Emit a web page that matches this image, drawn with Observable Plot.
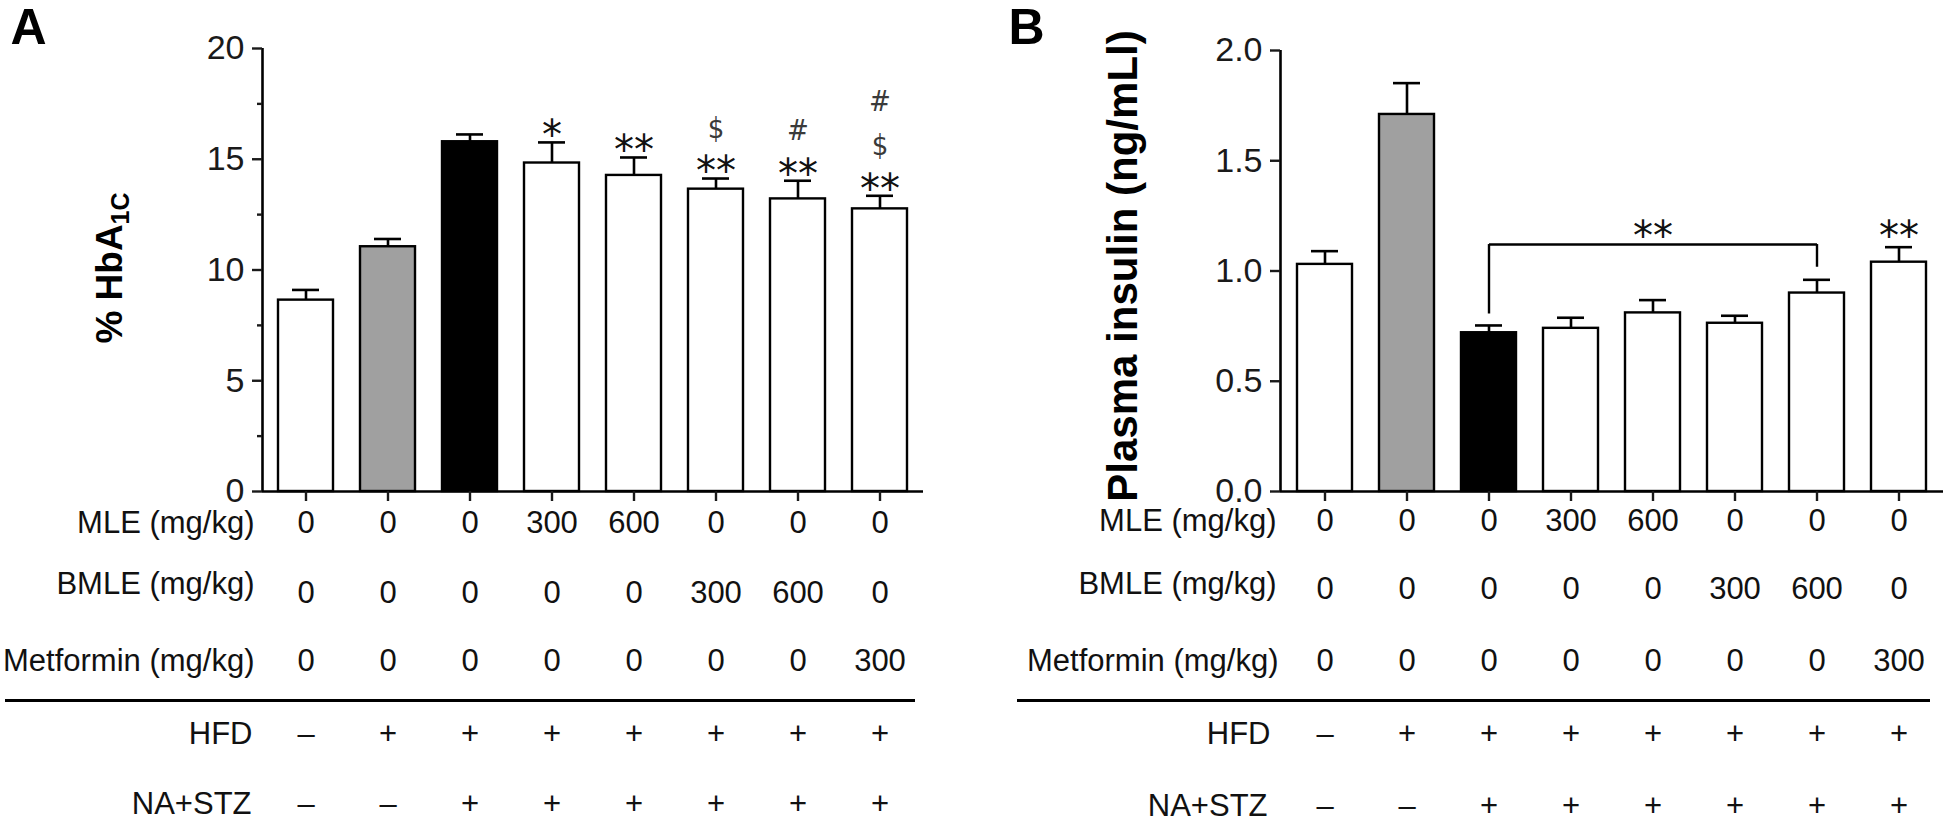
<!DOCTYPE html>
<html>
<head>
<meta charset="utf-8">
<script src="https://cdn.jsdelivr.net/npm/d3@7"></script>
<script src="https://cdn.jsdelivr.net/npm/@observablehq/plot@0.6"></script>
<style>
  html, body { margin: 0; padding: 0; background: #fff; }
  #wrap { position: relative; width: 1946px; height: 828px; overflow: hidden; }
  #panelA, #panelB { position: absolute; top: 0; }
  #panelA { left: 0; }
  #panelB { left: 973px; }
</style>
</head>
<body>
<div id="wrap"><div id="panelA"></div><div id="panelB"></div></div>
<script>
// ---------------- data ----------------
const groups = ["Control", "HFD", "HFD+NA/STZ", "MLE 300", "MLE 600", "BMLE 300", "BMLE 600", "Metformin 300"];
const barFill = ["white", "#a0a0a0", "black", "white", "white", "white", "white", "white"];

const hba1cMean = [8.64, 11.05, 15.79, 14.83, 14.27, 13.65, 13.21, 12.76];
const hba1cSem  = [0.46, 0.35, 0.33, 0.93, 0.81, 0.48, 0.82, 0.59];

const insulinMean = [1.03, 1.71, 0.72, 0.74, 0.81, 0.763, 0.90, 1.04];
const insulinSem  = [0.06, 0.142, 0.033, 0.048, 0.058, 0.034, 0.06, 0.068];

const mleDose       = ["0", "0", "0", "300", "600", "0", "0", "0"];
const bmleDose      = ["0", "0", "0", "0", "0", "300", "600", "0"];
const metforminDose = ["0", "0", "0", "0", "0", "0", "0", "300"];
const hfdRow        = ["–", "+", "+", "+", "+", "+", "+", "+"];
const nastzRow      = ["–", "–", "+", "+", "+", "+", "+", "+"];
const rowLabels     = ["MLE (mg/kg)", "BMLE (mg/kg)", "Metformin (mg/kg)", "HFD", "NA+STZ"];

const yTicksA = [0, 5, 10, 15, 20];
const yMinorA = [2.5, 7.5, 12.5, 17.5];
const yTicksB = [0, 0.5, 1.0, 1.5, 2.0];

// significance marks (group index, symbol, stacking level above the error bar)
const sigAGroup = [3, 4, 5, 6, 7, 5, 6, 7, 7];
const sigAText  = ["*", "**", "**", "**", "**", "$", "#", "$", "#"];
const sigALevel = [0, 0, 0, 0, 0, 1, 1, 1, 2];
const sigBGroup = [7];
const sigBText  = ["**"];
// comparison bracket in panel B (between groups 2 and 6)
const bracketB = {from: 2, to: 6, mid: 4, text: "**", y: 1.12, leftEnd: 0.805, rightEnd: 1.017};

// ---------------- drawing ----------------
const FONT = "'Liberation Sans', Arial, Helvetica, sans-serif";
const STAR_FONT = "'DejaVu Sans', sans-serif";
const SYM_FONT = "'DejaVu Sans Condensed', 'DejaVu Sans', sans-serif";
const W = 973, H = 828;

function build(o) {
  const d = groups.map((g, i) => ({
    g, fill: barFill[i], mean: o.mean[i], top: o.mean[i] + o.sem[i],
    r0: mleDose[i], r1: bmleDose[i], r2: metforminDose[i], r3: hfdRow[i], r4: nastzRow[i]
  }));
  const fw = W - o.ml - o.mr;
  const rowKeys = ["r0", "r1", "r2", "r3", "r4"];
  const marks = [
    Plot.barY(d, {x: "g", y: "mean", fill: "fill", stroke: "black", strokeWidth: 2.4}),
    Plot.ruleX(d, {x: "g", y1: "mean", y2: "top", stroke: "black", strokeWidth: 2.6}),
    Plot.tickY(d, {x: "g", y: "top", insetLeft: 14, insetRight: 14, stroke: "black", strokeWidth: 2.6}),
    Plot.ruleY([o.yDomain[0]], {stroke: "black", strokeWidth: 2.6}),
    Plot.ruleX([0], {x: null, y1: o.yDomain[0], y2: o.yDomain[1], dx: -fw / 2, stroke: "black", strokeWidth: 2.6}),
    Plot.axisY({ticks: o.yTicks, tickSize: 10, tickPadding: 8, tickFormat: o.tickFormat, fontSize: 34, strokeWidth: 2.4, label: null}),
    Plot.axisX({tickSize: 10, tickFormat: () => "", strokeWidth: 2.4, label: null}),
    ...rowKeys.map((k, j) => Plot.text(d, {x: "g", text: k, frameAnchor: "bottom", dy: o.valueDy[j], fontSize: 31, fill: "#111"})),
    ...rowLabels.map((t, j) => Plot.text([t], {text: v => v, frameAnchor: "bottom-left", textAnchor: "end", dx: o.labelDx[j], dy: o.labelDy[j], fontSize: 31, fill: "#111"})),
    Plot.ruleY([o.yDomain[0]], {dy: 209, insetLeft: o.sepLeft, insetRight: o.sepRight, stroke: "black", strokeWidth: 3}),
    Plot.text([o.letter], {text: v => v, frameAnchor: "top-left", textAnchor: "start", lineAnchor: "top", dx: o.letterDx, dy: o.letterDy, fontSize: 50, fontWeight: "bold", fill: "black"}),
    Plot.text([o.yLabel], {text: v => v, frameAnchor: "left", rotate: -90, textAnchor: "middle", lineAnchor: "middle", dx: o.yLabelDx, dy: o.yLabelDy, fontSize: o.yLabelSize, fontWeight: "bold", fill: "black"})
  ];
  if (o.yMinor) marks.push(Plot.axisY({ticks: o.yMinor, tickSize: 5, tickFormat: () => "", strokeWidth: 2.4, label: null}));
  return Plot.plot({
    width: W, height: H,
    marginLeft: o.ml, marginRight: o.mr, marginTop: o.mt, marginBottom: o.mb,
    x: {domain: groups, paddingInner: 0.33, paddingOuter: 0.165, axis: null},
    y: {domain: o.yDomain, axis: null},
    color: {type: "identity"},
    style: {fontFamily: FONT, background: "white", color: "#1a1a1a", overflow: "visible"},
    marks: marks.concat(o.extra(d))
  });
}

const levelOffset = [6, 50, 94];

const plotA = build({
  mean: hba1cMean, sem: hba1cSem, yDomain: [0, 20], yTicks: yTicksA, yMinor: yMinorA,
  tickFormat: d3.format("d"), ml: 262, mr: 50, mt: 48, mb: 337,
  valueDy: [41, 111, 179, 252, 322], labelDy: [41, 102, 179, 252, 322], labelDx: [-8, -8, -8, -10, -11],
  sepLeft: -257, sepRight: 8, letter: "A", letterDx: -252, letterDy: -40,
  yLabel: "% HbA1C", yLabelDx: -152, yLabelDy: -2, yLabelSize: 37,
  extra: (d) => {
    const sig = sigAGroup.map((gi, k) => ({g: groups[gi], top: d[gi].top, t: sigAText[k], lvl: sigALevel[k]}));
    return [
      Plot.text(sig.filter(s => s.lvl === 0), {x: "g", y: "top", text: "t", dy: -levelOffset[0], fontSize: 40, fontFamily: STAR_FONT, fill: "#111"}),
      Plot.text(sig.filter(s => s.lvl === 1), {x: "g", y: "top", text: "t", dy: -levelOffset[1], fontSize: 29, fontFamily: SYM_FONT, fill: "#3a3a3a"}),
      Plot.text(sig.filter(s => s.lvl === 2), {x: "g", y: "top", text: "t", dy: -levelOffset[2], fontSize: 29, fontFamily: SYM_FONT, fill: "#3a3a3a"})
    ];
  }
});

const plotB = build({
  mean: insulinMean, sem: insulinSem, yDomain: [0, 2], yTicks: yTicksB, yMinor: null,
  tickFormat: d3.format(".1f"), ml: 307, mr: 3, mt: 50, mb: 337,
  valueDy: [39, 107, 179, 252, 324], labelDy: [39, 102, 179, 252, 324], labelDx: [-4, -4, -2, -10, -13],
  sepLeft: -263, sepRight: 13, letter: "B", letterDx: -272, letterDy: -42,
  yLabel: "Plasma insulin (ng/mLl)", yLabelDx: -157, yLabelDy: -5, yLabelSize: 42,
  extra: (d) => {
    const b = bracketB;
    return [
      Plot.link([b], {x1: () => groups[b.from], x2: () => groups[b.to], y1: () => b.y, y2: () => b.y, stroke: "black", strokeWidth: 2.4}),
      Plot.ruleX([b], {x: () => groups[b.from], y1: () => b.leftEnd, y2: () => b.y, stroke: "black", strokeWidth: 2.4}),
      Plot.ruleX([b], {x: () => groups[b.to], y1: () => b.rightEnd, y2: () => b.y, stroke: "black", strokeWidth: 2.4}),
      Plot.text([b], {x: () => groups[b.mid], y: () => b.y, text: () => b.text, dy: -7, fontSize: 40, fontFamily: STAR_FONT, fill: "#111"}),
      Plot.text(sigBGroup.map((gi, k) => ({g: groups[gi], top: d[gi].top, t: sigBText[k]})), {x: "g", y: "top", text: "t", dy: -10, fontSize: 40, fontFamily: STAR_FONT, fill: "#111"})
    ];
  }
});

document.getElementById("panelA").appendChild(plotA);
document.getElementById("panelB").appendChild(plotB);

// subscript for HbA1C
d3.select(plotA).selectAll("text").filter(function () { return this.textContent === "% HbA1C"; })
  .each(function () {
    const t = d3.select(this);
    t.text("% HbA");
    t.append("tspan").attr("font-size", "25px").attr("dy", "0.25em").text("1C");
  });
</script>
</body>
</html>
